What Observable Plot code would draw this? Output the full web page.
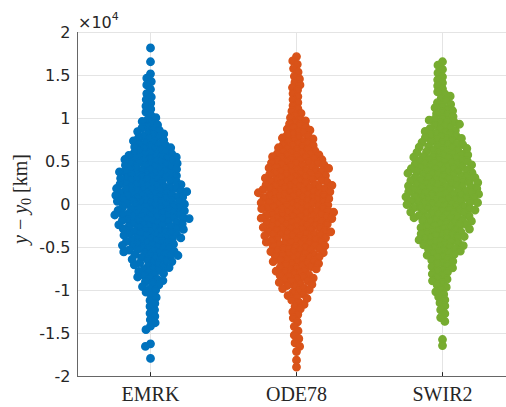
<!DOCTYPE html>
<html><head><meta charset="utf-8">
<script src="https://cdn.jsdelivr.net/npm/d3@7"></script>
<script src="https://cdn.jsdelivr.net/npm/@observablehq/plot@0.6"></script>
<style>
body{margin:0;background:#fff;}
#wrap{width:506px;height:407px;overflow:hidden;position:relative;background:#fff;}
#wrap svg{max-width:none!important;width:515px;height:407px;}
g[aria-label^="y-axis"] text{font-family:"DejaVu Sans",sans-serif;font-size:16px;fill:#262626;}
g[aria-label^="fx-axis"] text{font-family:"Liberation Serif",serif;font-size:20px;fill:#262626;}
</style></head><body><div id="wrap"></div>
<script>
const groups = ["EMRK", "ODE78", "SWIR2"];
const colors = ["#0072BD", "#D95319", "#77AC30"];
const yTicks = [-20000, -15000, -10000, -5000, 0, 5000, 10000, 15000, 20000];
const tickLabels = ["-2", "-1.5", "-1", "-0.5", "0", "0.5", "1", "1.5", "2"];

// y - y0 in km
const emrk = [18200,16600,15200,14700,14300,13900,13400,12900,12500,12200,11800,11450,11100,10750,10400,10100,9850,9650,9450,9250,9050,8900,8760,8620,8480,8340,8200,8060,7940,7830,7720,7610,7500,7390,7280,7170,7060,6960,6870,6780,6690,6600,6510,6420,6330,6240,6150,6060,5970,5900,5830,5770,5700,5630,5570,5500,5430,5370,5300,5230,5170,5100,5030,4970,4900,4830,4770,4700,4630,4570,4500,4430,4370,4300,4230,4170,4100,4030,3970,3910,3850,3790,3720,3660,3600,3540,3470,3410,3350,3290,3220,3160,3100,3040,2980,2920,2860,2800,2740,2680,2620,2560,2500,2440,2380,2320,2260,2200,2140,2080,2020,1970,1920,1860,1810,1760,1700,1650,1600,1540,1490,1440,1390,1330,1280,1230,1170,1120,1070,1020,970,920,860,810,750,700,640,590,530,480,420,370,310,260,200,150,90,40,
-20,-75,-130,-185,-240,-295,-350,-405,-460,-515,-570,-625,-680,-735,-790,-845,-900,-955,-1010,-1060,-1115,-1165,-1220,-1270,-1325,-1375,-1430,-1480,-1535,-1585,-1640,-1690,-1745,-1795,-1850,-1900,-1955,-2010,-2070,-2130,-2185,-2245,-2305,-2365,-2420,-2480,-2540,-2600,-2660,-2715,-2775,-2835,-2895,-2955,-3015,-3080,-3140,-3200,-3265,-3330,-3390,-3450,-3515,-3575,-3640,-3700,-3765,-3825,-3890,-3950,-4020,-4085,-4150,-4220,-4285,-4350,-4420,-4485,-4550,-4620,-4685,-4750,-4820,-4885,-4950,-5020,-5090,-5160,-5230,-5300,-5370,-5440,-5510,-5580,-5650,-5720,-5790,-5860,-5930,-6010,-6100,-6190,-6280,-6370,-6460,-6550,-6640,-6730,-6820,-6910,-7010,-7120,-7230,-7340,-7450,-7560,-7670,-7780,-7890,-8010,-8150,-8290,-8430,-8570,-8710,-8850,-8980,-9150,-9350,-9550,-9750,-9950,-10200,-10500,-10800,-11150,-11500,-11850,-12250,-12650,-13000,-13400,-13750,-14150,-14550,-16200,-16500,-17900];
const ode78 = [17200,16700,16300,15800,15400,14900,14600,14200,13900,13600,13300,12900,12550,12200,11850,11500,11150,10850,10600,10350,10100,9900,9730,9560,9390,9220,9050,8920,8780,8640,8500,8360,8220,8080,7950,7840,7730,7620,7510,7400,7290,7180,7070,6960,6870,6780,6690,6600,6510,6420,6330,6240,6150,6060,5975,5905,5835,5765,5695,5625,5555,5485,5415,5345,5275,5205,5135,5065,4985,4920,4855,4790,4720,4655,4590,4520,4455,4390,4320,4255,4190,4120,4055,3990,3930,3865,3805,3740,3680,3615,3555,3490,3430,3365,3305,3240,3180,3115,3055,2990,2930,2875,2815,2760,2700,2640,2585,2525,2470,2410,2350,2295,2235,2180,2120,2060,1995,1945,1890,1840,1785,1735,1680,1630,1575,1525,1470,1420,1365,1315,1260,1210,1155,1105,1050,990,940,885,835,780,730,675,625,570,520,465,415,360,310,255,205,150,100,45,
-10,-60,-115,-165,-220,-270,-325,-375,-430,-480,-535,-585,-640,-690,-745,-795,-850,-900,-955,-1005,-1060,-1110,-1165,-1215,-1270,-1320,-1375,-1425,-1480,-1530,-1585,-1635,-1690,-1740,-1795,-1845,-1900,-1950,-2005,-2060,-2115,-2170,-2225,-2280,-2335,-2390,-2445,-2500,-2555,-2610,-2665,-2720,-2775,-2830,-2885,-2940,-3000,-3060,-3115,-3175,-3235,-3295,-3350,-3410,-3470,-3530,-3590,-3645,-3705,-3765,-3825,-3880,-3940,-4000,-4065,-4125,-4190,-4250,-4315,-4375,-4440,-4500,-4565,-4625,-4690,-4750,-4815,-4875,-4940,-5005,-5070,-5140,-5205,-5275,-5340,-5410,-5475,-5545,-5610,-5680,-5745,-5815,-5880,-5950,-6030,-6105,-6180,-6260,-6335,-6410,-6490,-6565,-6640,-6720,-6795,-6870,-6950,-7040,-7130,-7220,-7310,-7400,-7490,-7580,-7670,-7760,-7850,-7940,-8050,-8150,-8250,-8350,-8450,-8550,-8650,-8750,-8850,-8950,-9060,-9180,-9300,-9420,-9540,-9660,-9780,-9900,-10080,-10250,-10420,-10590,-10760,-10930,-11120,-11370,-11620,-11870,-12150,-12480,-12800,-13200,-13650,-14200,-14700,-15200,-15600,-16100,-16500,-17100,-18100,-18900];
const swir2 = [16600,16200,15700,15300,14850,14500,14150,13800,13450,13100,12850,12600,12350,12100,11850,11650,11450,11250,11050,10900,10730,10560,10390,10220,10050,9930,9810,9690,9570,9450,9330,9210,9090,8940,8830,8720,8610,8500,8390,8280,8170,8060,7955,7865,7775,7685,7595,7505,7415,7325,7235,7145,7055,6965,6890,6815,6740,6660,6585,6510,6430,6355,6280,6200,6125,6050,5970,5905,5835,5770,5705,5635,5570,5500,5435,5370,5300,5235,5170,5100,5035,4970,4910,4845,4785,4720,4660,4595,4535,4470,4410,4345,4285,4220,4160,4095,4035,3975,3920,3860,3805,3745,3690,3635,3575,3520,3460,3405,3345,3290,3235,3175,3120,3060,2985,2930,2875,2820,2765,2710,2655,2600,2545,2490,2435,2380,2325,2270,2215,2160,2105,2050,1995,1940,1890,1835,1785,1730,1680,1625,1575,1520,1470,1415,1365,1310,1260,1205,1155,1100,1050,995,945,890,840,785,735,680,630,575,525,470,420,365,315,260,210,155,105,50,
-5,-65,-125,-180,-240,-300,-360,-415,-475,-535,-595,-650,-710,-770,-830,-885,-945,-1010,-1075,-1140,-1210,-1275,-1340,-1410,-1475,-1540,-1610,-1675,-1740,-1810,-1875,-1940,-2020,-2095,-2170,-2245,-2320,-2400,-2475,-2550,-2625,-2700,-2780,-2855,-2930,-3030,-3105,-3180,-3260,-3335,-3410,-3490,-3565,-3640,-3720,-3795,-3870,-3950,-4040,-4120,-4200,-4285,-4365,-4450,-4530,-4615,-4695,-4780,-4860,-4945,-5040,-5135,-5230,-5325,-5420,-5515,-5610,-5705,-5800,-5900,-6050,-6190,-6330,-6470,-6610,-6750,-6890,-7060,-7220,-7380,-7540,-7700,-7860,-8080,-8280,-8480,-8680,-8880,-9120,-9370,-9620,-9870,-10150,-10450,-10750,-11100,-11450,-11800,-12250,-12700,-13150,-13600,-15700,-16400];

const series = {EMRK: emrk, ODE78: ode78, SWIR2: swir2};
const points = groups.flatMap(g => series[g].map(v => ({group: g, value: v})));
const first = [{g: groups[0]}];

const chart = Plot.plot({
  width: 515, height: 407,
  marginLeft: 77, marginRight: 0, marginTop: 32, marginBottom: 31,
  style: {background: "white", color: "#262626", fontFamily: "DejaVu Sans, sans-serif"},
  fx: {domain: groups, padding: 0, axis: "bottom", label: null, tickSize: 0, tickPadding: 10},
  x: {domain: [0, 1], axis: null},
  y: {domain: [-20000, 20000], ticks: yTicks, tickFormat: d => tickLabels[yTicks.indexOf(d)], tickSize: 0, tickPadding: 7, label: null},
  color: {domain: groups, range: colors},
  marks: [
    Plot.ruleY(yTicks, {stroke: "#e4e4e4"}),
    Plot.ruleX([0.5], {stroke: "#e4e4e4"}),
    Plot.dot(points, Plot.dodgeX({anchor: "middle", padding: -1.7}, {y: "value", fx: "group", fill: "group", stroke: "group", strokeWidth: 1.4, r: 3.7})),
    Plot.ruleY([-20000], {stroke: "#666"}),
    Plot.ruleX(first, {fx: "g", x: () => 0, stroke: "#666"}),
    Plot.ruleX([0.5], {y1: -20000, y2: -19550, stroke: "#262626"})
  ]
});
document.getElementById("wrap").appendChild(chart);

const svg = d3.select(chart);
const expo = svg.append("text").attr("x", 78).attr("y", 28).attr("text-anchor", "start")
  .attr("font-family", "DejaVu Sans, sans-serif").attr("font-size", 16).attr("fill", "#262626");
expo.append("tspan").text("×10");
expo.append("tspan").attr("font-size", 11).attr("dy", -8).text("4");

const yl = svg.append("text")
  .attr("transform", "translate(27,199) rotate(-90)")
  .attr("text-anchor", "middle")
  .attr("font-family", "Liberation Serif, serif").attr("font-size", 20).attr("fill", "#262626");
yl.append("tspan").attr("font-style", "italic").text("y");
yl.append("tspan").text(" − ");
yl.append("tspan").attr("font-style", "italic").text("y");
yl.append("tspan").attr("font-size", 14).attr("dy", 4).text("0");
yl.append("tspan").attr("dy", -4).text(" [km]");
</script></body></html>
